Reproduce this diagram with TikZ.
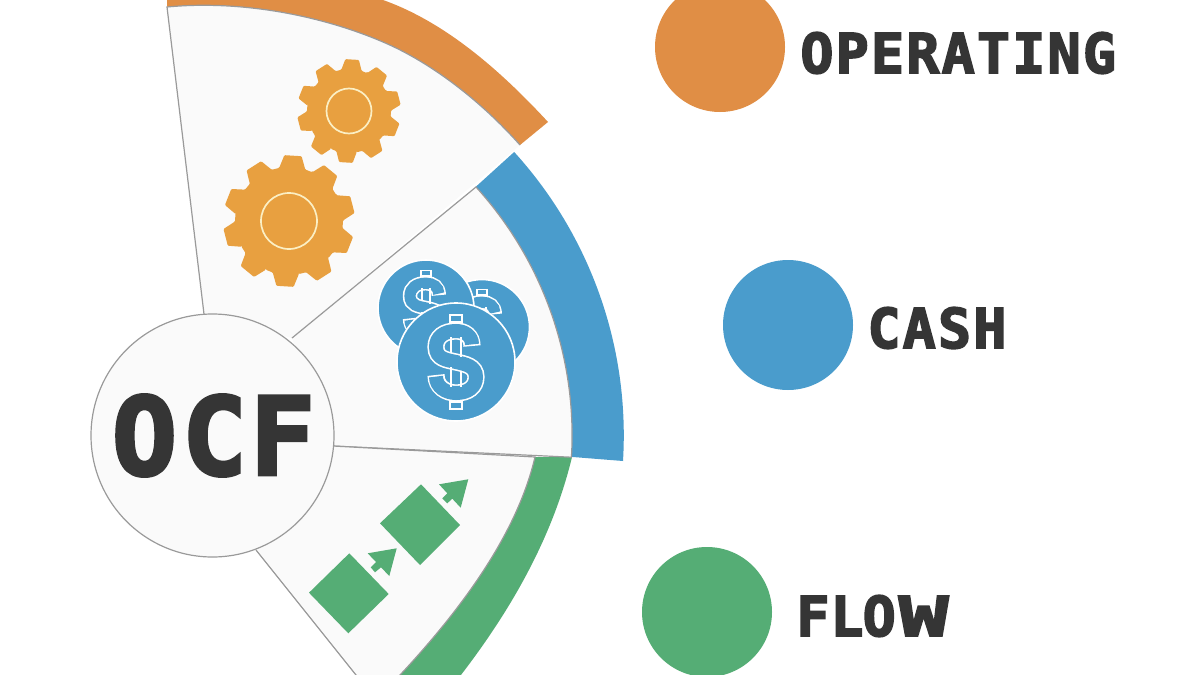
\documentclass[tikz,border=0pt]{standalone}
\usepackage{fontspec}
\usepackage{graphicx}
\newfontfamily\labelfont{DejaVu Sans Mono Bold}[FakeBold=3,LetterSpace=4]
\newfontfamily\hubfont{DejaVu Sans Mono Bold}[FakeBold=3]
\usetikzlibrary{positioning}
\definecolor{rimorange}{HTML}{E08E45}
\definecolor{gearorange}{HTML}{E8A040}
\definecolor{cashblue}{HTML}{4A9CCC}
\definecolor{flowgreen}{HTML}{55AD75}
\definecolor{wedgegray}{HTML}{FAFAFA}
\definecolor{edgegray}{HTML}{9A9A9A}
\definecolor{labelgray}{HTML}{353535}
\definecolor{ringcream}{HTML}{FBEFC4}
\tikzset{
    edgeline/.style={draw=edgegray, line width=1.2pt},
    wedgefill/.style={fill=wedgegray},
    dot/.style={circle, minimum size=130pt, inner sep=0pt},
    labeltext/.style={inner sep=0pt, text=labelgray, font=\fontsize{55}{55}\selectfont\labelfont},
    hub/.style={circle, draw=edgegray, line width=1.2pt, fill=wedgegray, minimum size=243pt, inner sep=0pt, text=labelgray, font=\fontsize{108}{108}\selectfont\hubfont}
}
\newcommand{\gearwheel}[4]{
    \fill[gearorange, shift={#1}, rounded corners=1pt] (-86.5-22:#3)
        \foreach \i [evaluate=\i as \t using -86.5+36*\i] in {0,...,9} {
            -- (\t-14:#3) -- (\t-7.5:#2) -- (\t+7.5:#2) -- (\t+14:#3) -- (\t+22:#3)
        } -- cycle;
    \draw[ringcream, line width=1.7pt, shift={#1}] (0,0) circle (#4);
}
\newcommand{\dollarmark}[2]{
    \pgfmathsetmacro{\bandwidth}{14*#2}
    \pgfmathsetmacro{\whitewidth}{\bandwidth+3.2}
    \begin{scope}[shift={#1}, scale=#2]
        \draw[white, line width=1.6pt] (-6,-47) rectangle (6,-40);
        \draw[white, line width=1.6pt] (-6,40) rectangle (6,47);
        \draw[white, line width=\whitewidth pt] (16,-16) .. controls (16,-26) and (9,-31) .. (0,-31) .. controls (-12,-31) and (-20,-25) .. (-20,-15) .. controls (-20,-3) and (-9,-2) .. (0,0) .. controls (9,2) and (20,4) .. (20,15) .. controls (20,25) and (12,31) .. (0,31) .. controls (-10,31) and (-20,25) .. (-20,13);
        \draw[cashblue, line width=\bandwidth pt, shorten <=1.6pt, shorten >=1.6pt] (16,-16) .. controls (16,-26) and (9,-31) .. (0,-31) .. controls (-12,-31) and (-20,-25) .. (-20,-15) .. controls (-20,-3) and (-9,-2) .. (0,0) .. controls (9,2) and (20,4) .. (20,15) .. controls (20,25) and (12,31) .. (0,31) .. controls (-10,31) and (-20,25) .. (-20,13);
        \draw[white, line width=1.6pt] (-5,-25) -- (-5,-9) (5,-25) -- (5,-5) (-5,5) -- (-5,25) (5,9) -- (5,25);
    \end{scope}
}
\newcommand{\coin}[3]{
    \fill[cashblue] #1 circle (#2);
    \draw[white, line width=1.6pt] #1 circle (#2);
    \dollarmark{#1}{#3}
}
\begin{document}
\begin{tikzpicture}[x=1pt, y=-1pt]
    \useasboundingbox (0,0) rectangle (1200,675);
    \clip (0,0) rectangle (1200,675);
    \fill[white] (0,0) rectangle (1200,675);

    \fill[rimorange] (167,-20) -- (167,7) .. controls (240,0) and (320,15) .. (383,42) .. controls (430,62) and (480,100) .. (520,145) -- (548,122) .. controls (500,70) and (445,22) .. (383,0) -- (320,-20) -- cycle;
    \fill[cashblue] (-42.3:369) ++(203,435) arc[start angle=-42.3, end angle=3.4, radius=369] -- (623,461) arc[start angle=3.5, end angle=-42.3, radius=421] -- cycle;
    \fill[flowgreen] (535,457) .. controls (518,530) and (465,610) .. (376,700) -- (441,700) .. controls (507,620) and (552,540) .. (572,457) -- cycle;

    \fill[wedgefill] (204,314) -- (167,7) .. controls (240,0) and (320,15) .. (383,42) .. controls (430,62) and (480,100) .. (520,145) -- (292,338) -- cycle;
    \draw[edgeline] (204,314) -- (167,7) .. controls (240,0) and (320,15) .. (383,42) .. controls (430,62) and (480,100) .. (520,145);
    \fill[wedgefill] (292,338) -- (476,187) arc[start angle=-42.3, end angle=3.4, radius=369] -- (333,446) -- cycle;
    \draw[edgeline] (292,338) -- (476,187) arc[start angle=-42.3, end angle=3.4, radius=369] -- (333,446);
    \fill[wedgefill] (333,446) -- (535,457) .. controls (518,530) and (465,610) .. (376,700) -- (375,700) -- (256,550) -- cycle;
    \draw[edgeline] (333,446) -- (535,457) .. controls (518,530) and (465,610) .. (376,700) -- (256,550);

    \gearwheel{(349,111)}{52}{42}{22.5}
    \gearwheel{(289,221)}{66}{54}{28}

    \coin{(482,327)}{47.5}{0.8}
    \coin{(426,308)}{48}{0.8}
    \coin{(456,362)}{59}{1}

    \fill[flowgreen] (349.3,553.3) -- (388.7,594) -- (348.3,633.3) -- (309,592.7) -- cycle;
    \fill[flowgreen] (421,484.3) -- (460,525) -- (420,565) -- (380,523.3) -- cycle;
    \fill[flowgreen] (396.7,548.3) -- (367.7,553.3) -- (376,562) -- (370.7,567.3) -- (375,572.3) -- (381,567.3) -- (389.3,576) -- cycle;
    \fill[flowgreen] (468.3,479.3) -- (439,484.3) -- (447.3,493.3) -- (442.3,498.3) -- (447.3,503.3) -- (452.3,498.7) -- (460.7,507.7) -- cycle;

    \node[hub] (ocf) at (212.5,435.5) {\kern2pt O\kern5pt C\kern3pt F};

    \node[dot, fill=rimorange] (opdot) at (720,47) {};
    \node[dot, fill=cashblue] (cashdot) at (788,325) {};
    \node[dot, fill=flowgreen] (flowdot) at (707,612) {};
    \node[labeltext, right=15pt of opdot.east, yshift=-6pt] (oplabel) {OPERATING};
    \node[labeltext, right=14pt of cashdot.east, yshift=-3pt] (cashlabel) {CASH};
    \node[labeltext, right=24pt of flowdot.east, yshift=-4pt] (flowlabel) {F\kern1pt L\kern-1pt O\kern3pt \scalebox{1.5}[1]{W}};
\end{tikzpicture}
\end{document}
